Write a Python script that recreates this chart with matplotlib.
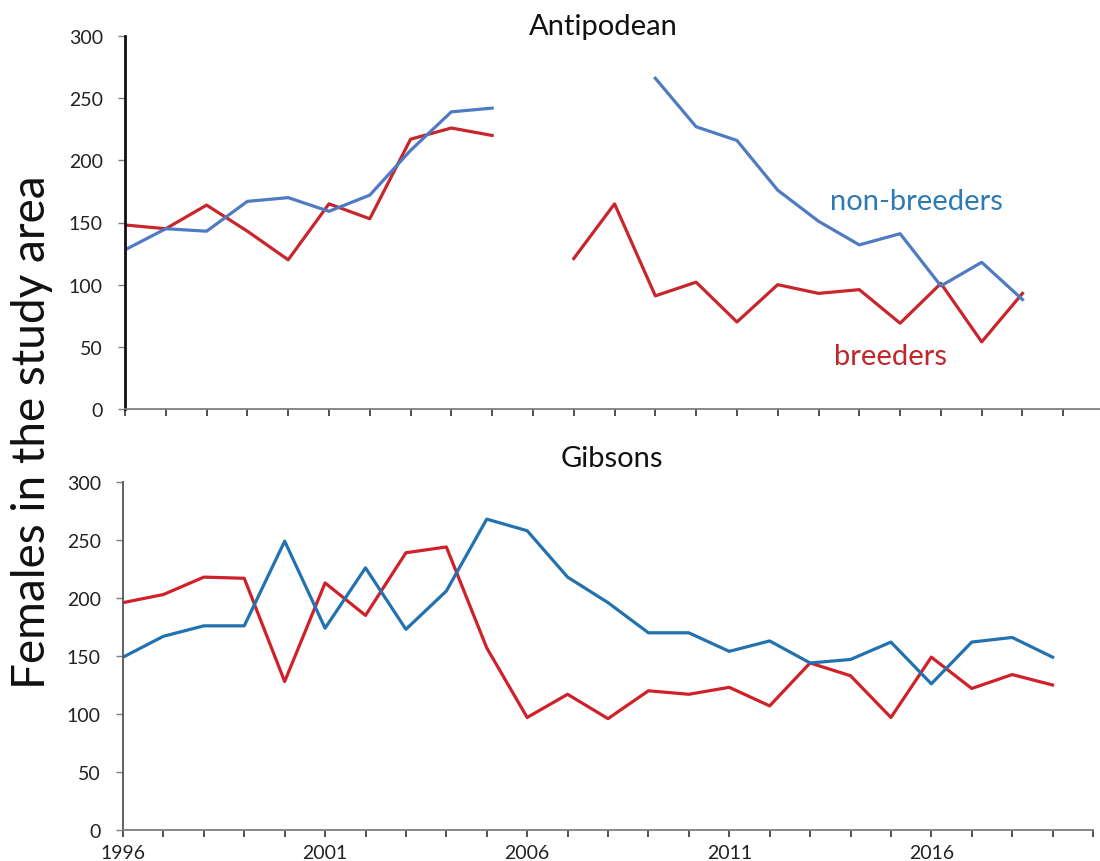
import numpy as np
import matplotlib.pyplot as plt

plt.rcParams['font.family'] = ['Lato', 'DejaVu Sans']

# Antipodean counts (NaN = no survey that year)
years = np.arange(1996, 2020)
anti_breeders = [148, 145, 164, 143, 120, 165, 153, 217, 226, 220, np.nan,
                 121, 165, 91, 102, 70, 100, 93, 96, 69, 101, 54, 93, np.nan]
anti_nonbreeders = [128, 145, 143, 167, 170, 159, 172, 208, 239, 242, np.nan,
                    np.nan, np.nan, 266, 227, 216, 176, 151, 132, 141, 99, 118, 88, np.nan]

# Gibsons counts
gib_breeders = [196, 203, 218, 217, 128, 213, 185, 239, 244, 157, 97, 117,
                96, 120, 117, 123, 107, 144, 133, 97, 149, 122, 134, 125]
gib_nonbreeders = [149, 167, 176, 176, 249, 174, 226, 173, 206, 268, 258, 218,
                   196, 170, 170, 154, 163, 144, 147, 162, 126, 162, 166, 149]

yticks = [0, 50, 100, 150, 200, 250, 300]
xtick_labels = [1996, 2001, 2006, 2011, 2016]

fig = plt.figure(figsize=(11, 8.62), dpi=100)
W, H = 1100, 862

def make_axes(left, right, top, bottom):
    return fig.add_axes([left / W, 1 - bottom / H, (right - left) / W, (bottom - top) / H])

def fig_text(x, y, s, **kw):
    # place text by pixel position (origin top-left)
    fig.text(x / W, 1 - y / H, s, ha='center', va='center', **kw)

ax1 = make_axes(125, 1100, 37, 410)
ax2 = make_axes(123, 1093, 483, 831)

for ax in (ax1, ax2):
    ax.set_ylim(0, 300)
    ax.set_yticks(yticks)
    ax.spines['top'].set_visible(False)
    ax.spines['right'].set_visible(False)
    ax.spines['bottom'].set_color('#7f7f7f')
    ax.spines['bottom'].set_linewidth(1.3)
    ax.tick_params(axis='y', labelsize=14, length=5, width=1, colors='#7f7f7f',
                   labelcolor='#222222', pad=11)
    ax.tick_params(axis='x', length=5, width=1.2, colors='#333333',
                   labelcolor='#222222', labelsize=14, pad=5)
    ax.set_xticks(np.arange(1996, 2021))

ax1.set_xlim(1996, 2019.9)
ax1.spines['left'].set_color('#111111')
ax1.spines['left'].set_linewidth(2)
ax1.set_xticklabels([])
ax1.plot(years, anti_breeders, color='#c8252c', lw=2.3)
ax1.plot(years, anti_nonbreeders, color='#4f7bc2', lw=2.3)

ax2.set_xlim(1996, 2020)
ax2.spines['left'].set_color('#555555')
ax2.spines['left'].set_linewidth(1.3)
ax2.set_xticklabels([str(y) if y in xtick_labels else '' for y in range(1996, 2021)])
ax2.plot(years, gib_breeders, color='#d0202a', lw=2.3)
ax2.plot(years, gib_nonbreeders, color='#2272b0', lw=2.3)

fig_text(603, 27, 'Antipodean', fontsize=21, color='#111111')
fig_text(612, 459, 'Gibsons', fontsize=21, color='#111111')

fig_text(916, 202, 'non-breeders', fontsize=21, color='#2e7ab4')
fig_text(890, 357, 'breeders', fontsize=21, color='#c0272d')

fig_text(32, 432, 'Females in the study area', rotation=90,
         fontsize=33, color='#111111')

fig.savefig('out.png', dpi=100)
